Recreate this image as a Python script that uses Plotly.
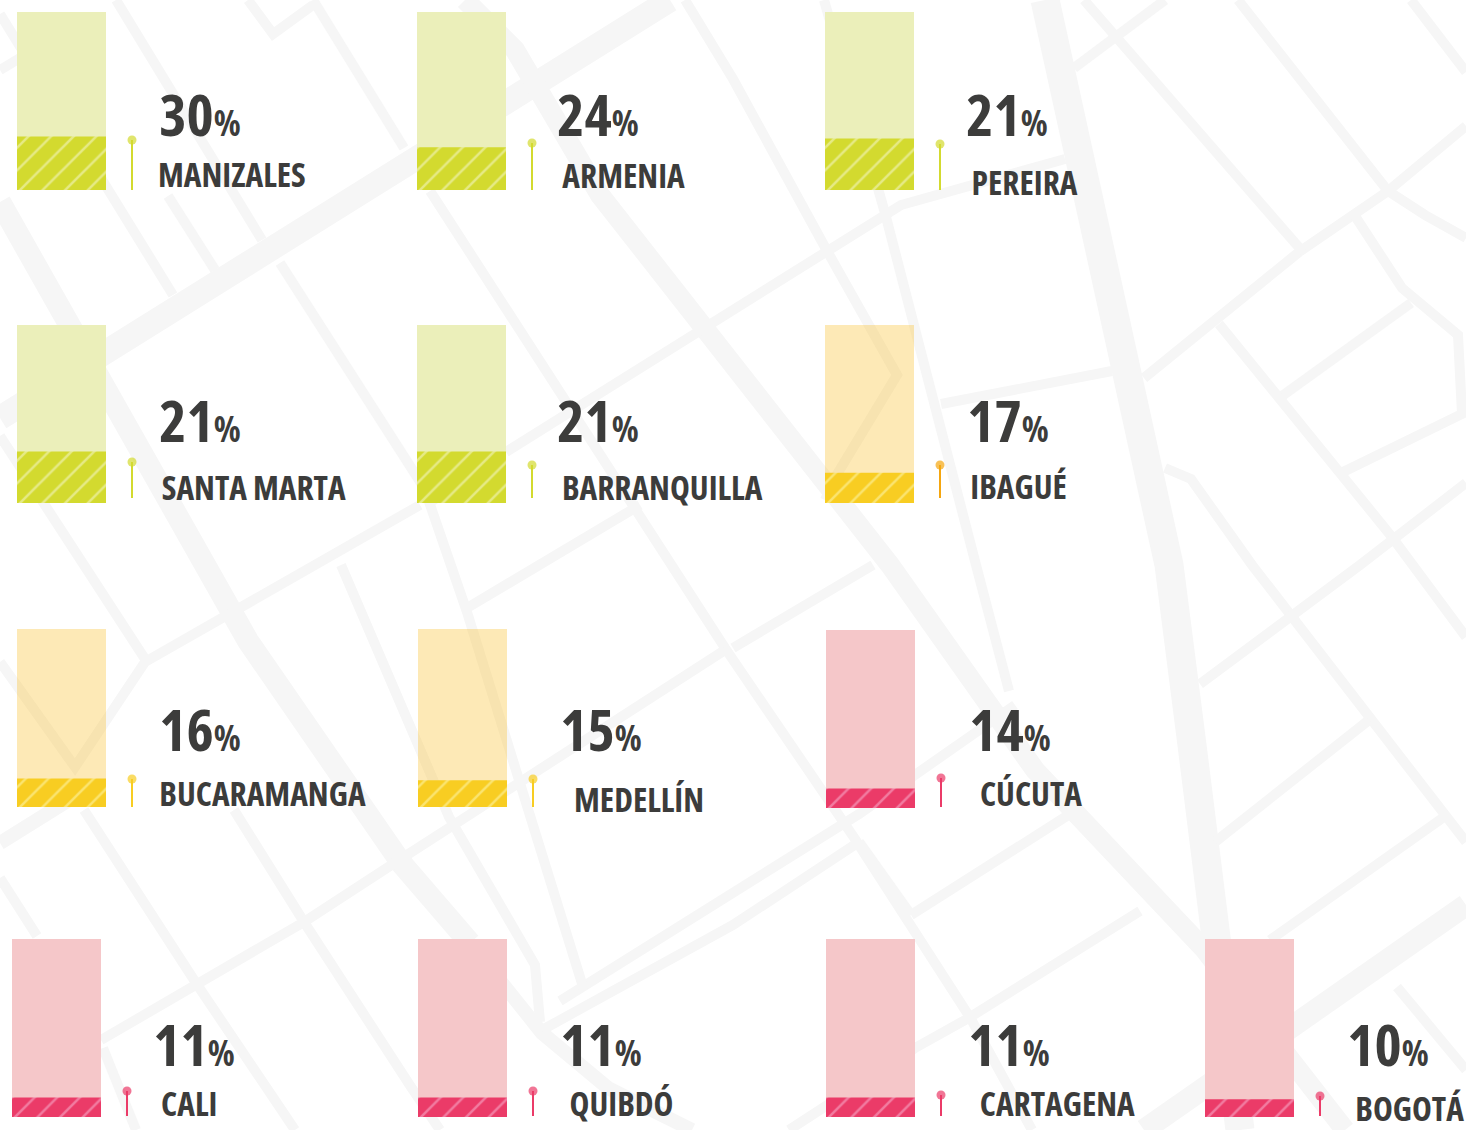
import plotly.graph_objects as go

# ---- chart data ----
cities = ["MANIZALES", "ARMENIA", "PEREIRA", "SANTA MARTA", "BARRANQUILLA", "IBAGUÉ", "BUCARAMANGA",
          "MEDELLÍN", "CÚCUTA", "CALI", "QUIBDÓ", "CARTAGENA", "BOGOTÁ"]
labels = [30, 24, 21, 21, 21, 17, 16, 15, 14, 11, 11, 11, 10]
drawn_share = [30, 24, 29, 29, 29, 17, 16, 15, 11, 11, 11, 11, 10]
groups = ["g", "g", "g", "g", "g", "y", "y", "y", "r", "r", "r", "r", "r"]

# ---- layout (pixel positions of each small panel) ----
W, H = 1466, 1130
bar_left = [17, 417, 825, 17, 417, 825, 17, 418, 826, 12, 418, 826, 1205]
bar_top = [12, 12, 12, 325, 325, 325, 629, 629, 630, 939, 939, 939, 939]
bar_w, bar_h = 89, 178
pct_x = [199.5, 597.5, 1007, 199.5, 597.5, 1007.5, 199.5, 601, 1009.5, 193.5, 601, 1009, 1388]
pct_y = [113, 113, 113, 419, 419, 419, 728, 728, 728, 1043, 1043, 1043, 1043]
name_x = [232, 624, 1025, 254, 662, 1018.5, 263, 639, 1031, 189, 621.5, 1057.5, 1409.5]
name_y = [174, 175, 182, 487, 487, 486, 793, 799, 793, 1103, 1103, 1103, 1108]
name_box_w = {12: 110}
pin_x = [132, 532, 940, 132, 532, 940, 132, 533, 941, 127, 533, 941, 1320]
pin_top = [140, 143, 144, 462, 465, 465, 779, 779, 778, 1091, 1091, 1095, 1096]
pin_bot = [190, 190, 190, 498, 498, 498, 807, 807, 807, 1116, 1116, 1116, 1116]

pale = {"g": "#ebefba", "y": "rgba(248,182,12,0.3)", "r": "#f5c7c9"}
solid = {"g": "#d3da2f", "y": "#f8cd22", "r": "#eb3b68"}
stripe = {"g": "#e6ea85", "y": "#fbe46f", "r": "#f27ba0"}
pin_col = {"g": "#d3da2f", "y": "#f8cd22", "r": "#eb3b68"}
pin_over = {5: "#f5a60f"}
ROAD = "#f6f6f6"
INK = "#3c3c3b"
FONT = "Open Sans"

# decorative street map behind the chart: (width, polyline)
roads = [
    (24, [(0, 418), (670, 0)]),
    (22, [(0, 202), (70, 324), (203, 565), (248, 641), (402, 864), (470, 943)]),
    (14, [(470, 943), (542, 1033), (608, 1088), (692, 1130)]),
    (20, [(465, 0), (515, 50), (600, 195), (720, 345), (890, 565), (1035, 770), (1205, 950), (1345, 1130)]),
    (29, [(1045, 0), (1128, 371), (1169, 565), (1192, 745), (1216, 940), (1240, 1130)]),
    (22, [(1466, 905), (1144, 1130)]),
    (10, [(0, 14), (173, 295)]),
    (10, [(116, 0), (262, 240)]),
    (10, [(280, 263), (435, 505)]),
    (10, [(168, 196), (215, 270)]),
    (10, [(313, 0), (404, 148)]),
    (10, [(248, 0), (273, 34), (313, 5)]),
    (10, [(0, 70), (20, 58)]),
    (10, [(0, 436), (84, 565), (145, 659)]),
    (10, [(430, 191), (725, 648), (855, 839), (971, 1019), (1032, 1130)]),
    (10, [(685, 0), (733, 79), (826, 249), (897, 375), (836, 476), (825, 500)]),
    (10, [(506, 452), (733, 310), (901, 205), (1065, 159)]),
    (10, [(824, 0), (885, 213), (976, 565), (1009, 691)]),
    (10, [(941, 404), (1112, 371)]),
    (10, [(1144, 378), (1299, 252), (1388, 191), (1466, 126)]),
    (10, [(1084, 0), (1303, 252)]),
    (10, [(1074, 68), (1165, 0)]),
    (10, [(1238, 0), (1388, 191), (1425, 215), (1466, 238)]),
    (10, [(1411, 0), (1466, 72)]),
    (10, [(1355, 216), (1402, 288), (1458, 335), (1462, 414), (1343, 472)]),
    (10, [(1282, 396), (1411, 303)]),
    (10, [(1219, 324), (1392, 537), (1466, 637)]),
    (10, [(1165, 468), (1191, 479), (1252, 565), (1444, 814), (1466, 842)]),
    (10, [(1466, 483), (1360, 565), (1200, 684)]),
    (10, [(1369, 720), (1215, 842)]),
    (10, [(1444, 817), (1270, 940)]),
    (10, [(1397, 987), (1466, 1070)]),
    (10, [(560, 1001), (733, 893), (859, 814), (1015, 705)]),
    (10, [(542, 1030), (733, 925), (859, 842)]),
    (10, [(859, 842), (911, 915)]),
    (10, [(911, 915), (1070, 814)]),
    (10, [(733, 648), (873, 565)]),
    (10, [(1140, 911), (967, 1019), (915, 1048), (789, 1130)]),
    (10, [(420, 505), (243, 605), (145, 662), (75, 767), (0, 662)]),
    (14, [(0, 843), (85, 790)]),
    (10, [(84, 810), (196, 983), (295, 1130)]),
    (10, [(234, 810), (304, 922), (411, 1087), (440, 1130)]),
    (10, [(0, 878), (37, 936)]),
    (10, [(103, 1048), (136, 1130)]),
    (10, [(101, 1040), (304, 922), (393, 864), (725, 650)]),
    (10, [(341, 565), (449, 817), (535, 965), (540, 1022)]),
    (10, [(425, 490), (467, 612), (584, 990)]),
    (10, [(467, 608), (640, 505)]),
]

fig = go.Figure()
for width, pts in roads:
    fig.add_trace(go.Scatter(x=[p[0] for p in pts], y=[p[1] for p in pts], mode="lines",
                             line=dict(color=ROAD, width=width), hoverinfo="skip", showlegend=False))

axes = dict(
    xaxis=dict(domain=[0, 1], range=[0, W], visible=False, fixedrange=True),
    yaxis=dict(domain=[0, 1], range=[H, 0], visible=False, fixedrange=True),
)

for i, city in enumerate(cities):
    n = i + 2
    g = groups[i]
    axes[f"xaxis{n}"] = dict(domain=[bar_left[i] / W, (bar_left[i] + bar_w) / W], range=[-0.5, 0.5],
                             visible=False, fixedrange=True, anchor=f"y{n}")
    axes[f"yaxis{n}"] = dict(domain=[1 - (bar_top[i] + bar_h) / H, 1 - bar_top[i] / H], range=[0, 100],
                             visible=False, fixedrange=True, anchor=f"x{n}")
    fig.add_trace(go.Bar(x=[0], y=[100], width=1, xaxis=f"x{n}", yaxis=f"y{n}", showlegend=False,
                         marker=dict(color=pale[g], line_width=0), hoverinfo="skip"))
    fig.add_trace(go.Bar(x=[0], y=[drawn_share[i]], width=1, xaxis=f"x{n}", yaxis=f"y{n}", showlegend=False,
                         name=city,
                         marker=dict(color=solid[g], line_width=0,
                                     pattern=dict(shape="/", size=16, solidity=0.16, fgcolor=stripe[g], bgcolor=solid[g], fillmode="replace"))))
    col = pin_over.get(i, pin_col[g])
    fig.add_trace(go.Scatter(x=[pin_x[i], pin_x[i]], y=[pin_top[i], pin_bot[i]], mode="lines+markers",
                             line=dict(color=col, width=2), marker=dict(color=col, size=[9, 0], line_width=0),
                             hoverinfo="skip", showlegend=False))
    fig.add_annotation(x=pct_x[i], y=pct_y[i], xref="x", yref="y", xanchor="center", yanchor="middle", showarrow=False,
                       text=f"{labels[i]}<span style='font-size:35px'>%</span>",
                       font=dict(family=FONT, size=58, color=INK, weight=700), borderpad=0, borderwidth=0)
    fig.add_annotation(x=name_x[i], y=name_y[i], xref="x", yref="y", xanchor="center", yanchor="middle", showarrow=False,
                       text=city, font=dict(family=FONT, size=33.5, color=INK, weight=700), borderpad=0,
                       width=name_box_w.get(i))

fig.update_layout(width=W, height=H, margin=dict(l=0, r=0, t=0, b=0), paper_bgcolor="white", plot_bgcolor="rgba(0,0,0,0)",
                  barmode="overlay", showlegend=False, **axes)
post = """
document.body.style.margin = '0';
var st = document.createElement('style');
st.textContent = '.annotation-text, .annotation-text tspan { font-stretch: 75%; }';
document.head.appendChild(st);
Plotly.redraw('{plot_id}');
"""
fig.write_html("out.html", config=dict(displayModeBar=False), post_script=post)
